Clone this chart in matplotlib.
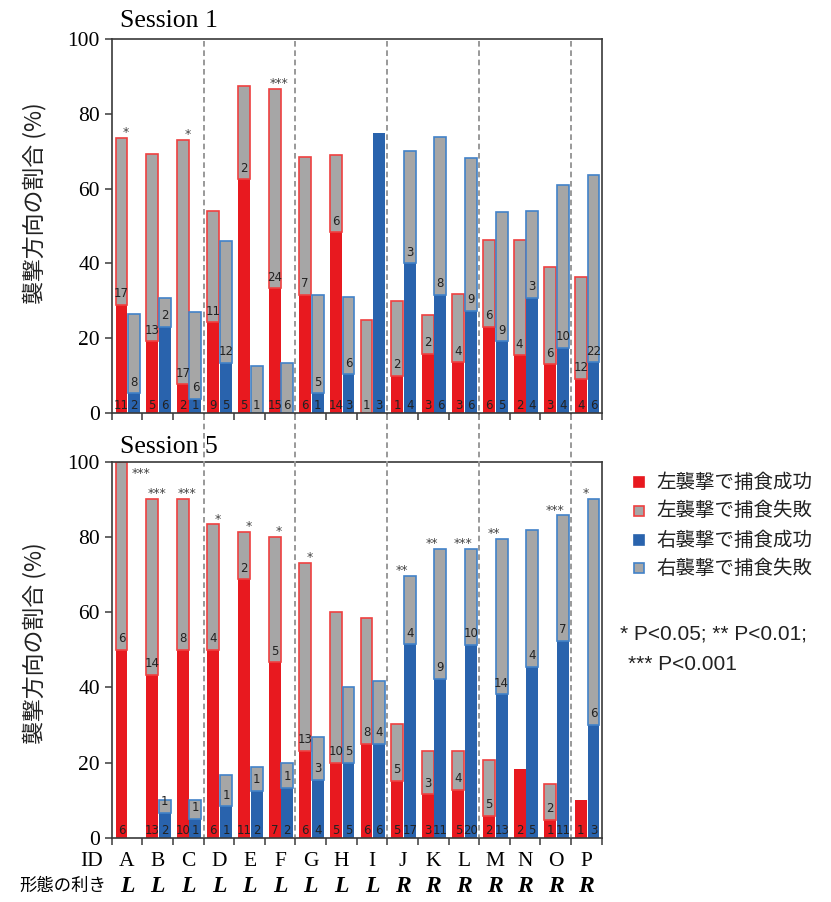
import numpy as np
import matplotlib
matplotlib.use('Agg')
import matplotlib.pyplot as plt
from matplotlib.lines import Line2D
from matplotlib.patches import Rectangle

# ---- data ----
ids = list('ABCDEFGHIJKLMNOP')
hand = ['L'] * 9 + ['R'] * 7

# Session 1: segment heights (%) and counts
s1_lw_pct = [28.9, 19.2, 7.7, 24.3, 62.5, 33.3, 31.6, 48.3, 0, 10.0, 15.8, 13.6, 23.1, 15.4, 13.0, 9.1]
s1_ll_pct = [44.7, 50.0, 65.4, 29.7, 25.0, 53.3, 36.8, 20.7, 25.0, 20.0, 10.5, 18.2, 23.1, 30.8, 26.1, 27.3]
s1_rw_pct = [5.3, 23.1, 3.8, 13.5, 0, 0, 5.3, 10.3, 75.0, 40.0, 31.6, 27.3, 19.2, 30.8, 17.4, 13.6]
s1_rl_pct = [21.1, 7.7, 23.1, 32.4, 12.5, 13.3, 26.3, 20.7, 0, 30.0, 42.1, 40.9, 34.6, 23.1, 43.5, 50.0]
s1_lw_n = [11, 5, 2, 9, 5, 15, 6, 14, 0, 1, 3, 3, 6, 2, 3, 4]
s1_ll_n = [17, 13, 17, 11, 2, 24, 7, 6, 1, 2, 2, 4, 6, 4, 6, 12]
s1_rw_n = [2, 6, 1, 5, 0, 0, 1, 3, 3, 4, 6, 6, 5, 4, 4, 6]
s1_rl_n = [8, 2, 6, 12, 1, 6, 5, 6, 0, 3, 8, 9, 9, 3, 10, 22]
s1_stars = ['*', '', '*', '', '', '***', '', '', '', '', '', '', '', '', '', '']

# Session 5
s5_lw_pct = [50.0, 43.3, 50.0, 50.0, 68.8, 46.7, 23.1, 20.0, 25.0, 15.2, 11.5, 12.8, 5.9, 18.2, 4.8, 10.0]
s5_ll_pct = [50.0, 46.7, 40.0, 33.3, 12.5, 33.3, 50.0, 40.0, 33.3, 15.0, 11.5, 10.3, 14.7, 0, 9.5, 0]
s5_rw_pct = [0, 6.7, 5.0, 8.3, 12.5, 13.3, 15.4, 20.0, 25.0, 51.5, 42.3, 51.3, 38.2, 45.5, 52.4, 30.0]
s5_rl_pct = [0, 3.3, 5.0, 8.3, 6.3, 6.7, 11.5, 20.0, 16.7, 18.2, 34.6, 25.6, 41.2, 36.4, 33.3, 60.0]
s5_lw_n = [6, 13, 10, 6, 11, 7, 6, 5, 6, 5, 3, 5, 2, 2, 1, 1]
s5_ll_n = [6, 14, 8, 4, 2, 5, 13, 10, 8, 5, 3, 4, 5, 0, 2, 0]
s5_rw_n = [0, 2, 1, 1, 2, 2, 4, 5, 6, 17, 11, 20, 13, 5, 11, 3]
s5_rl_n = [0, 1, 1, 1, 1, 1, 3, 5, 4, 4, 9, 10, 14, 4, 7, 6]
s5_stars = ['***', '***', '***', '*', '*', '*', '*', '', '', '**', '**', '***', '**', '', '***', '*']

legend_labels = ['左襲撃で捕食成功', '左襲撃で捕食失敗', '右襲撃で捕食成功', '右襲撃で捕食失敗']

RED = '#e8191f'
RED_EDGE = '#ef4040'
BLUE = '#2963ad'
BLUE_EDGE = '#4282c8'
GRAY = '#a6a6a6'
CJK = ['Noto Sans CJK JP', 'DejaVu Sans']
SERIF = 'Liberation Serif'

W, H = 831, 902
fig = plt.figure(figsize=(W / 100, H / 100), dpi=100)


def fx(px):
    return px / W


def fy(py):
    return 1 - py / H


AX_L, AX_R = 111.7, 601.7
ax1 = fig.add_axes([fx(AX_L), fy(413), (AX_R - AX_L) / W, (413 - 39) / H])
ax2 = fig.add_axes([fx(AX_L), fy(837.7), (AX_R - AX_L) / W, (837.7 - 461.7) / H])

BW = 0.39
LBL = 8.5


def draw_panel(ax, lw_pct, ll_pct, rw_pct, rl_pct, lw_n, ll_n, rw_n, rl_n, stars):
    for i in range(16):
        xl = i + 0.32
        xr = i + 0.733
        for xc, win, lose, nw, nl, col, edge in [
                (xl, lw_pct[i], ll_pct[i], lw_n[i], ll_n[i], RED, RED_EDGE),
                (xr, rw_pct[i], rl_pct[i], rw_n[i], rl_n[i], BLUE, BLUE_EDGE)]:
            if win > 0:
                ax.bar(xc, win, BW, color=col, linewidth=0)
                ax.text(xc, 0.3, str(nw), ha='center', va='bottom', fontsize=LBL, color='#222222')
            if lose > 0:
                ax.bar(xc, lose, BW, bottom=win, color=GRAY, edgecolor=edge, linewidth=1.2)
                off = 0.3 if win == 0 else 1.2
                ax.text(xc, win + off, str(nl), ha='center', va='bottom', fontsize=LBL, color='#222222')
        if stars[i]:
            top = max(lw_pct[i] + ll_pct[i], rw_pct[i] + rl_pct[i])
            if top > 95:
                ax.text(i + 0.96, 96.0, stars[i], ha='center', va='baseline', fontsize=9, color='#444444')
            else:
                ax.text(i + 0.47, top + 0.5, stars[i], ha='center', va='baseline', fontsize=9, color='#444444')

    ax.set_xlim(0, 16)
    ax.set_ylim(0, 100)
    ax.set_xticks(range(17))
    ax.set_xticklabels([])
    ax.set_yticks(range(0, 101, 20))
    ax.set_yticklabels([str(v) for v in range(0, 101, 20)], family=SERIF, fontsize=15.5)
    ax.tick_params(axis='both', length=5, width=1.1, color='#3a3a3a', direction='out')
    for sp in ax.spines.values():
        sp.set_color('#3a3a3a')
        sp.set_linewidth(1.2)


draw_panel(ax1, s1_lw_pct, s1_ll_pct, s1_rw_pct, s1_rl_pct, s1_lw_n, s1_ll_n, s1_rw_n, s1_rl_n, s1_stars)
draw_panel(ax2, s5_lw_pct, s5_ll_pct, s5_rw_pct, s5_rl_pct, s5_lw_n, s5_ll_n, s5_rw_n, s5_rl_n, s5_stars)

# dashed group separators running through both panels
for k in [3, 6, 9, 12, 15]:
    xp = AX_L + k * (AX_R - AX_L) / 16
    fig.add_artist(Line2D([fx(xp), fx(xp)], [fy(41), fy(837)], color='#999999',
                          linewidth=1.4, linestyle=(0, (2.9, 1.9))))

fig.text(fx(120), fy(26.7), 'Session 1', family=SERIF, fontsize=18.5, va='baseline')
fig.text(fx(120), fy(453), 'Session 5', family=SERIF, fontsize=18.5, va='baseline')

fig.text(fx(35), fy(203), '襲撃方向の割合 (%)', rotation=90, ha='center', va='center',
         family=CJK, fontsize=16.5, color='#222222')
fig.text(fx(35), fy(643), '襲撃方向の割合 (%)', rotation=90, ha='center', va='center',
         family=CJK, fontsize=16.5, color='#222222')

# ID row and handedness row
fig.text(fx(92), fy(861), 'ID', ha='center', va='center', family=SERIF, fontsize=15.5)
fig.text(fx(106), fy(886), '形態の利き', ha='right', va='center', family=CJK, fontsize=12.5)
tr = ax2.get_xaxis_transform()
for i in range(16):
    ax2.text(i + 0.5, (837.7 - 861) / 376, ids[i], transform=tr, ha='center', va='center',
             family=SERIF, fontsize=15.5, clip_on=False)
    ax2.text(i + 0.5, (837.7 - 886) / 376, hand[i], transform=tr, ha='center', va='center',
             family=SERIF, fontsize=17, fontweight='bold', fontstyle='italic', clip_on=False)

# legend
styles = [(RED, RED), (GRAY, RED_EDGE), (BLUE, BLUE), (GRAY, BLUE_EDGE)]
rows = [482, 511, 540, 568]
for (fc, ec), lab, ry in zip(styles, legend_labels, rows):
    fig.add_artist(Rectangle((fx(634), fy(ry + 5)), 10 / W, 10 / H, transform=fig.transFigure,
                             facecolor=fc, edgecolor=ec, linewidth=1.2))
    fig.text(fx(656), fy(ry), lab, ha='left', va='center', family=CJK, fontsize=14, color='#222222')

fig.text(fx(620), fy(634), '* P<0.05; ** P<0.01;', ha='left', va='center',
         family='Liberation Sans', fontsize=15, color='#222222')
fig.text(fx(628), fy(664), '*** P<0.001', ha='left', va='center',
         family='Liberation Sans', fontsize=15, color='#222222')

fig.savefig('out.png', dpi=100)
